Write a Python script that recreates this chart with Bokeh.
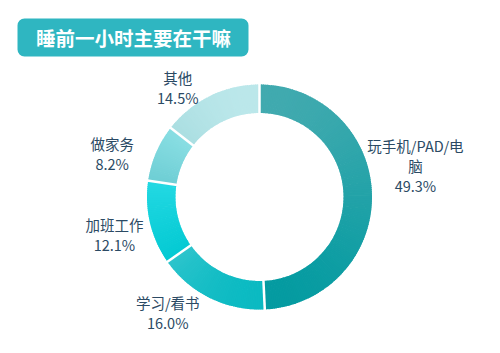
import math
from bokeh.plotting import figure
from bokeh.models import Range1d, ColumnDataSource
from bokeh.core.properties import value
from bokeh.embed import file_html
from bokeh.resources import INLINE

# ---- data ----
categories = ["玩手机/PAD/电\n脑", "学习/看书", "加班工作", "做家务", "其他"]
shares = [49.3, 16.0, 12.1, 8.2, 14.5]
title_text = "睡前一小时主要在干嘛"

# ---- style ----
top_colors = ["#45abb0", "#33c6ce", "#24d9e3", "#8ee1e6", "#c2ebee"]
bot_colors = ["#009aa0", "#00b7bf", "#00c8d1", "#6ccdd3", "#a6dcdf"]
label_nudge = [(11, 28), (-28, 15), (-4, -4), (-14, -13), (-18, -21)]
W, H = 500, 353
CX, CY = 259, H - 196.5
R_OUT, R_IN = 112.5, 84
LABEL_R = 145

def hex2rgb(h):
    h = h.lstrip("#")
    return [int(h[i:i + 2], 16) for i in (0, 2, 4)]

def mix(c1, c2, t):
    a, b = hex2rgb(c1), hex2rgb(c2)
    return "#%02x%02x%02x" % tuple(int(round(a[i] + (b[i] - a[i]) * t)) for i in range(3))

p = figure(width=W, height=H, output_backend="svg", toolbar_location=None,
           x_range=Range1d(0, W), y_range=Range1d(0, H), min_border=0)
p.axis.visible = False
p.grid.visible = False
p.outline_line_color = None
p.background_fill_color = "white"
p.border_fill_color = "white"

total = sum(shares)
cum = 0.0
seg = dict(start=[], end=[], color=[])
bounds = []
for i, v in enumerate(shares):
    a0 = math.pi / 2 - 2 * math.pi * cum / total
    a1 = math.pi / 2 - 2 * math.pi * (cum + v) / total
    bounds.append((a0, a1))
    n = max(4, int(abs(a0 - a1) / math.radians(1)))
    angs = [a0 + (a1 - a0) * k / n for k in range(n + 1)]
    ys = [CY + r * math.sin(a) for a in angs for r in (R_IN, R_OUT)]
    ymin, ymax = min(ys), max(ys)
    for k in range(n):
        sa, ea = angs[k], angs[k + 1]
        ma = (sa + ea) / 2
        ym = CY + (R_IN + R_OUT) / 2 * math.sin(ma)
        t = (ymax - ym) / (ymax - ymin) if ymax > ymin else 0.5
        seg["start"].append(ea - 0.004)
        seg["end"].append(sa + 0.004)
        seg["color"].append(mix(top_colors[i], bot_colors[i], t))
    cum += v

src = ColumnDataSource(seg)
p.annular_wedge(x=CX, y=CY, inner_radius=R_IN, outer_radius=R_OUT,
                start_angle="start", end_angle="end", fill_color="color",
                line_color=None, source=src)

# white separators
sep = dict(x0=[], y0=[], x1=[], y1=[])
for a0, a1 in bounds:
    sep["x0"].append(CX + (R_IN - 1) * math.cos(a0))
    sep["y0"].append(CY + (R_IN - 1) * math.sin(a0))
    sep["x1"].append(CX + (R_OUT + 1) * math.cos(a0))
    sep["y1"].append(CY + (R_OUT + 1) * math.sin(a0))
p.segment(x0="x0", y0="y0", x1="x1", y1="y1", source=ColumnDataSource(sep),
          line_color="white", line_width=2.5)

# labels
lx, ly, lt = [], [], []
for i, (a0, a1) in enumerate(bounds):
    am = (a0 + a1) / 2
    dx, dy = label_nudge[i]
    lx.append(CX + LABEL_R * math.cos(am) + dx)
    ly.append(CY + LABEL_R * math.sin(am) + dy)
    lt.append(f"{categories[i]}\n{shares[i]:.1f}%")
p.text(x=lx, y=ly, text=lt, text_align="center", text_baseline="middle",
       text_font=value("Noto Sans CJK SC"), text_font_size="14.5px",
       text_color="#2b4a64", text_line_height=0.95)

# title box
p.rect(x=132.5, y=H - 37, width=231, height=38, fill_color="#2fb6c1",
       line_color=None, border_radius=7)
p.text(x=[133], y=[H - 37], text=[title_text], text_align="center",
       text_baseline="middle", text_font=value("Noto Sans CJK SC"),
       text_font_size="19.5px", text_font_style="bold", text_color="white")

open("out.html", "w").write(file_html(p, INLINE))
